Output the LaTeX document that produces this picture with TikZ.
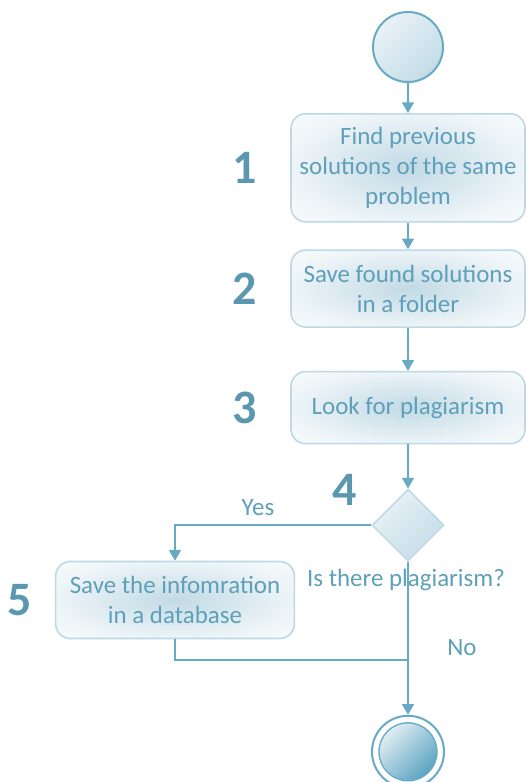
\documentclass[tikz,border=0pt]{standalone}
\usepackage{fontspec}
\setmainfont{Carlito}
\usetikzlibrary{positioning,shapes.geometric,arrows.meta}

\definecolor{flowline}{HTML}{68AAC4}
\definecolor{flowtext}{HTML}{5E9FB9}
\definecolor{flownum}{HTML}{5B98B0}
\definecolor{boxedge}{HTML}{BCD9E5}
\definecolor{boxmid}{HTML}{C2DAE5}
\definecolor{boxout}{HTML}{F8FBFC}
\definecolor{ballight}{HTML}{E9F2F6}
\definecolor{baldark}{HTML}{C3DCE7}
\definecolor{enddark}{HTML}{5AA3C0}

\pgfdeclareradialshading{boxglow}{\pgfpoint{0bp}{0bp}}{%
  color(0bp)=(boxmid); color(25bp)=(boxout!80!boxmid); color(35bp)=(boxout); color(50bp)=(boxout)}

\tikzset{
  activity/.style={rectangle, rounded corners=11pt, draw=boxedge, line width=1.2pt,
    shading=boxglow, minimum width=175.5pt,
    align=center, text=flowtext, font=\fontsize{18.7}{22.5}\selectfont},
  decision/.style={diamond, aspect=1, draw=boxedge, line width=1pt,
    top color=ballight, bottom color=baldark, shading angle=45,
    minimum size=54pt, inner sep=0pt},
  initial/.style={circle, draw=flowline, line width=1.5pt, top color=ballight,
    bottom color=baldark, shading angle=45, minimum size=52.5pt, inner sep=0pt},
  final/.style={circle, draw=flowline, line width=1.5pt, fill=white,
    minimum size=54pt, inner sep=0pt},
  finalin/.style={circle, draw=flowline, line width=1pt, top color=ballight!80!baldark,
    bottom color=enddark, shading angle=45, minimum size=43.5pt, inner sep=0pt},
  stepnum/.style={text=flownum, font=\fontsize{36}{38}\bfseries\selectfont, inner sep=0pt},
  lbl/.style={text=flowtext, font=\fontsize{18.7}{22.5}\selectfont, inner sep=0pt},
  flow/.style={draw=flowline, line width=1.1pt},
  arr/.style={flow, -{Triangle[length=8pt,width=9pt]}}
}

\begin{document}
\begin{tikzpicture}[x=0.75pt,y=0.75pt]
	\useasboundingbox (0,0) rectangle (526,-782);
	% activities
	\node[initial] (start) at (408,-47) {};
	\node[activity, minimum height=81pt, below=22.5pt of start] (find)
		{Find previous\\solutions of the same\\problem};
	\node[activity, minimum height=57.75pt, below=20pt of find] (save)
		{Save found solutions\\in a folder};
	\node[activity, minimum height=54pt, below=32.25pt of save] (look)
		{Look for plagiarism};
	\node[decision, below=33pt of look] (dec) {};
	\node[activity, minimum width=179pt, minimum height=57.75pt] (store) at (175,-600)
		{Save the infomration\\in a database};
	\node[final, below=114.75pt of dec] (end) {};
	\node[finalin] (endin) at (end) {};
	\coordinate (join) at (dec |- 0,-660);
	% step numbers
	\node[stepnum, left=25pt of find] (n1) {1};
	\node[stepnum, left=25pt of save] (n2) {2};
	\node[stepnum, left=25pt of look] (n3) {3};
	\node[stepnum] (n4) at (345,-490) {4};
	\node[stepnum, left=17pt of store] (n5) {5};
	% labels
	\node[lbl] (yes) at (258,-508) {Yes};
	\node[lbl] (ask) at (406,-580) {Is there plagiarism?};
	\node[lbl] (no) at (462,-648) {No};
	% connectors
	\draw[arr] (start) -- (find);
	\draw[arr] (find) -- (save);
	\draw[arr] (save) -- (look);
	\draw[arr] (look) -- (dec);
	\draw[arr] (dec.west) -| (store.north);
	\draw[flow] (store.south) |- (join);
	\draw[arr] (dec.south) -- (end.north);
\end{tikzpicture}
\end{document}
